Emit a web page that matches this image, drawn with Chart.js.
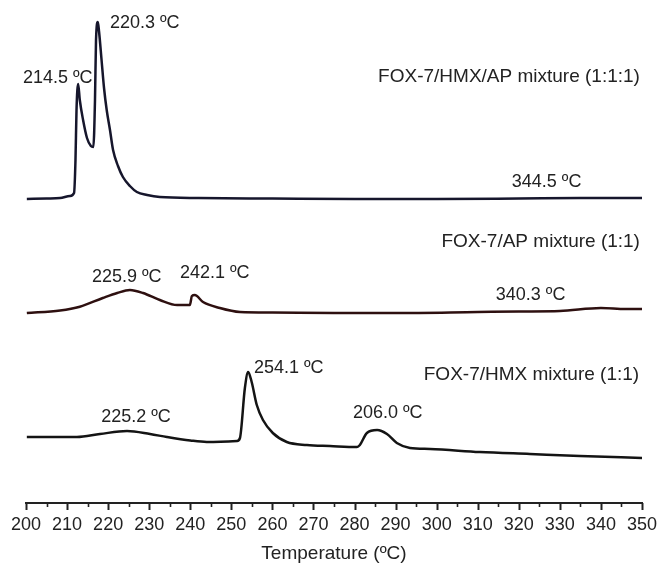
<!DOCTYPE html>
<html>
<head>
<meta charset="utf-8">
<script src="https://cdn.jsdelivr.net/npm/chart.js@4.4.1/dist/chart.umd.min.js"></script>
<style>
  html, body { margin: 0; padding: 0; background: #ffffff; }
  #wrap { width: 657px; height: 563px; position: relative; }
</style>
</head>
<body>
<div id="wrap"><canvas id="c"></canvas></div>
<script>
// ---- Data (temperature in ºC, heat flow in arbitrary offset units) ----
const seriesNames = ["FOX-7/HMX/AP mixture (1:1:1)", "FOX-7/AP mixture (1:1)", "FOX-7/HMX mixture (1:1)"];

const hmxApTemp = [200.2, 205, 208.3, 210.7, 211.7, 212.05, 212.3, 212.7, 213.1, 213.9, 214.85, 215.8, 216.4, 216.8, 217.05, 217.5, 217.8, 218.4, 219.0, 219.65, 220.45, 221.2, 222.4, 223.6, 225.3, 227.0, 229.5, 232.6, 242, 260, 280, 300, 320, 335, 350];
const hmxApHeat = [30.4, 30.45, 30.5, 30.7, 31.0, 34.3, 39.3, 41.9, 40.3, 38.3, 36.5, 35.7, 35.6, 40.3, 46.3, 48.1, 47.1, 44.3, 41.5, 39.3, 37.3, 35.3, 33.7, 32.6, 31.7, 31.1, 30.8, 30.6, 30.5, 30.45, 30.4, 30.4, 30.45, 30.5, 30.5];

const apTemp = [200.2, 208.3, 213.1, 218.7, 222.2, 225.3, 228.5, 232.6, 236.8, 239.9, 240.4, 241.1, 243.1, 247.2, 252.1, 260, 275, 290, 310, 320, 330, 340, 346, 350];
const apHeat = [19.0, 19.25, 19.63, 20.5, 21.0, 21.3, 21.0, 20.3, 19.8, 19.8, 20.7, 20.8, 20.1, 19.5, 19.1, 19.05, 19.0, 19.0, 19.1, 19.15, 19.2, 19.5, 19.4, 19.4];

const hmxTemp = [200.2, 208, 212.4, 218, 224.6, 230.2, 234.3, 240, 244, 251.4, 252.1, 253.3, 254.1, 254.95, 256.2, 257.7, 260.1, 263.5, 268.4, 274, 280.6, 281.3, 283, 285.5, 287.9, 290.3, 293.5, 298.4, 310.5, 322.7, 334.9, 350];
const hmxHeat = [6.6, 6.6, 6.6, 6.9, 7.2, 6.9, 6.6, 6.25, 6.1, 6.2, 6.5, 11.5, 13.1, 12.1, 9.8, 8.3, 7.0, 6.1, 5.8, 5.7, 5.6, 5.8, 7.0, 7.3, 6.9, 6.0, 5.5, 5.4, 5.1, 4.9, 4.7, 4.5];

// Peak annotation labels and where they sit (temperature, heat-flow units)
const peakLabels = ["214.5 ºC", "220.3 ºC", "344.5 ºC", "225.9 ºC", "242.1 ºC", "340.3 ºC", "254.1 ºC", "225.2 ºC", "206.0 ºC"];
const peakLabelT = [199.27, 220.45, 318.3, 216.07, 237.5, 314.4, 255.5, 218.3, 279.6];
const peakLabelV = [42.5, 48.0, 32.1, 22.6, 23.0, 20.8, 13.5, 8.6, 9.0];

// Series name labels (right aligned)
const nameLabelT = [349.5, 349.5, 349.3];
const nameLabelV = [42.6, 26.1, 12.8];

const xMin = 200, xMax = 350, xStep = 5;

function pts(t, v) { return t.map((x, i) => ({ x: x, y: v[i] })); }

const textColor = '#222222';
const fontFamily = '"Liberation Sans", Arial, Helvetica, sans-serif';

const annotationPlugin = {
  id: 'annot',
  afterDatasetsDraw(chart) {
    const ctx = chart.ctx;
    const xs = chart.scales.x, ys = chart.scales.y;
    ctx.save();
    ctx.fillStyle = textColor;
    ctx.textBaseline = 'middle';
    ctx.font = '18px ' + fontFamily;
    ctx.textAlign = 'left';
    peakLabels.forEach((s, i) => {
      ctx.fillText(s, xs.getPixelForValue(peakLabelT[i]), ys.getPixelForValue(peakLabelV[i]));
    });
    ctx.font = '19px ' + fontFamily;
    ctx.textAlign = 'right';
    seriesNames.forEach((s, i) => {
      ctx.fillText(s, xs.getPixelForValue(nameLabelT[i]), ys.getPixelForValue(nameLabelV[i]));
    });
    ctx.restore();
  }
};

const tickPlugin = {
  id: 'ticksDraw',
  afterDraw(chart) {
    const ctx = chart.ctx;
    const xs = chart.scales.x;
    const y0 = xs.top;
    ctx.save();
    ctx.strokeStyle = '#222222';
    xs.ticks.forEach(t => {
      const major = Math.round(t.value) % 10 === 0;
      const px = Math.round(xs.getPixelForValue(t.value)) + 0.5;
      ctx.lineWidth = major ? 2 : 1.6;
      ctx.beginPath();
      ctx.moveTo(px, y0);
      ctx.lineTo(px, y0 + (major ? 7 : 4));
      ctx.stroke();
    });
    ctx.restore();
  }
};

const lineStyle = { borderWidth: 2.5, pointRadius: 0, fill: false, cubicInterpolationMode: 'monotone' };

new Chart(document.getElementById('c'), {
  type: 'line',
  data: {
    datasets: [
      Object.assign({ label: seriesNames[0], data: pts(hmxApTemp, hmxApHeat), borderColor: '#16162c' }, lineStyle),
      Object.assign({ label: seriesNames[1], data: pts(apTemp, apHeat), borderColor: '#2e1010' }, lineStyle),
      Object.assign({ label: seriesNames[2], data: pts(hmxTemp, hmxHeat), borderColor: '#141414' }, lineStyle)
    ]
  },
  options: {
    responsive: true,
    maintainAspectRatio: false,
    animation: false,
    layout: { padding: { top: 0, left: 26, right: 15, bottom: 0 } },
    plugins: { legend: { display: false }, tooltip: { enabled: false } },
    scales: {
      x: {
        type: 'linear',
        min: xMin, max: xMax,
        afterFit(scale) { scale.height = 60; scale.paddingLeft = 0; scale.paddingRight = 0; },
        ticks: {
          stepSize: xStep, autoSkip: false, maxRotation: 0, minRotation: 0,
          padding: 4,
          color: textColor,
          font: { family: fontFamily, size: 18 },
          callback: v => (Math.round(v) % 10 === 0 ? String(v) : '')
        },
        grid: { display: true, drawOnChartArea: false, drawTicks: true, tickLength: 7, tickColor: 'rgba(0,0,0,0)' },
        border: { display: true, color: '#222222', width: 2 },
        title: { display: true, text: 'Temperature (ºC)', color: textColor, font: { family: fontFamily, size: 19 }, padding: { top: 0, bottom: -2 } }
      },
      y: {
        display: false,
        min: 0, max: 50.3
      }
    }
  },
  plugins: [annotationPlugin, tickPlugin]
});
</script>
</body>
</html>
